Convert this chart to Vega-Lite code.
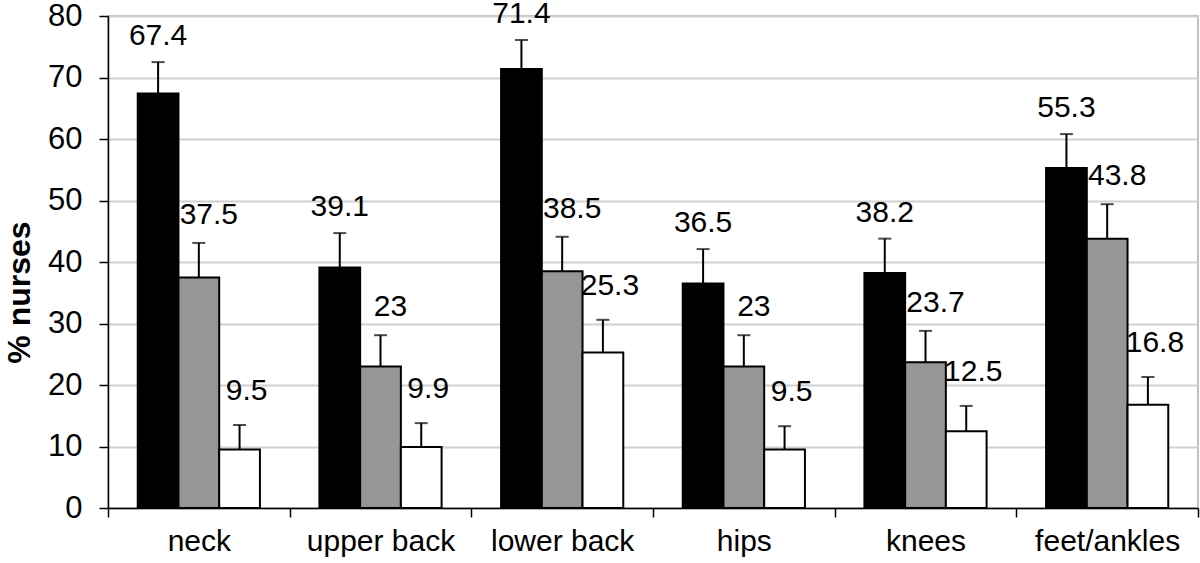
{
  "$schema": "https://vega.github.io/schema/vega-lite/v6.json",
  "width": 1090,
  "height": 492,
  "autosize": {"type": "none"},
  "padding": {"left": 108, "top": 16, "right": 2, "bottom": 55},
  "background": "white",
  "config": {
    "view": {"stroke": "#c0c0c0", "strokeWidth": 2},
    "font": "Liberation Sans"
  },
  "data": {
    "values": [
      {"site": "neck", "series": "A", "value": 67.4, "upper": 72.5},
      {"site": "neck", "series": "B", "value": 37.5, "upper": 43.1},
      {"site": "neck", "series": "C", "value": 9.5, "upper": 13.5},
      {"site": "upper back", "series": "A", "value": 39.1, "upper": 44.7},
      {"site": "upper back", "series": "B", "value": 23, "upper": 28.1},
      {"site": "upper back", "series": "C", "value": 9.9, "upper": 13.8},
      {"site": "lower back", "series": "A", "value": 71.4, "upper": 76.1},
      {"site": "lower back", "series": "B", "value": 38.5, "upper": 44.1},
      {"site": "lower back", "series": "C", "value": 25.3, "upper": 30.6},
      {"site": "hips", "series": "A", "value": 36.5, "upper": 42.1},
      {"site": "hips", "series": "B", "value": 23, "upper": 28.1},
      {"site": "hips", "series": "C", "value": 9.5, "upper": 13.3},
      {"site": "knees", "series": "A", "value": 38.2, "upper": 43.8},
      {"site": "knees", "series": "B", "value": 23.7, "upper": 28.8},
      {"site": "knees", "series": "C", "value": 12.5, "upper": 16.6},
      {"site": "feet/ankles", "series": "A", "value": 55.3, "upper": 60.8},
      {"site": "feet/ankles", "series": "B", "value": 43.8, "upper": 49.4},
      {"site": "feet/ankles", "series": "C", "value": 16.8, "upper": 21.3}
    ]
  },
  "encoding": {
    "x": {
      "field": "site",
      "type": "nominal",
      "sort": ["neck", "upper back", "lower back", "hips", "knees", "feet/ankles"],
      "scale": {"paddingInner": 0, "paddingOuter": 0},
      "axis": {
        "title": null,
        "labelAngle": 0,
        "tickBand": "extent",
        "tickSize": 9,
        "tickColor": "black",
        "tickWidth": 1.5,
        "domainColor": "black",
        "domainWidth": 1.5,
        "labelFontSize": 30,
        "labelColor": "black",
        "labelPadding": 9,
        "grid": false
      }
    },
    "xOffset": {
      "field": "series",
      "type": "nominal",
      "sort": ["A", "B", "C"],
      "scale": {"paddingInner": 0, "paddingOuter": 0.73}
    }
  },
  "layer": [
    {
      "mark": {"type": "bar", "stroke": "black", "strokeWidth": 2},
      "encoding": {
        "y": {
          "field": "value",
          "type": "quantitative",
          "scale": {"domain": [0, 80], "nice": false},
          "axis": {
            "title": "% nurses",
            "values": [0, 10, 20, 30, 40, 50, 60, 70, 80],
            "grid": true,
            "gridColor": "#d0d0d0",
            "gridWidth": 2,
            "domainColor": "black",
            "domainWidth": 1.5,
            "tickColor": "black",
            "tickWidth": 1.5,
            "tickSize": 9,
            "labelFontSize": 31,
            "labelColor": "black",
            "labelPadding": 17,
            "titleFontSize": 32,
            "titleFontWeight": "bold",
            "titleColor": "black",
            "titleX": -89,
            "titleY": 276,
            "titleAlign": "center",
            "titleBaseline": "middle",
            "titleAngle": -90
          }
        },
        "fill": {
          "field": "series",
          "type": "nominal",
          "scale": {"domain": ["A", "B", "C"], "range": ["#000000", "#969696", "#ffffff"]},
          "legend": null
        }
      }
    },
    {
      "mark": {"type": "rule", "strokeWidth": 2, "color": "black"},
      "encoding": {
        "y": {"field": "value", "type": "quantitative", "title": "% nurses"},
        "y2": {"field": "upper"}
      }
    },
    {
      "mark": {"type": "tick", "orient": "horizontal", "size": 13, "thickness": 2, "color": "black"},
      "encoding": {
        "y": {"field": "upper", "type": "quantitative", "title": "% nurses"}
      }
    },
    {
      "transform": [{"filter": "datum.series === 'A'"}],
      "mark": {"type": "text", "dy": -26, "fontSize": 30, "baseline": "middle", "color": "black"},
      "encoding": {
        "y": {"field": "upper", "type": "quantitative", "title": "% nurses"},
        "text": {"field": "value", "type": "quantitative"}
      }
    },
    {
      "transform": [{"filter": "datum.series === 'B'"}],
      "mark": {"type": "text", "dy": -28, "dx": 10, "fontSize": 30, "baseline": "middle", "color": "black"},
      "encoding": {
        "y": {"field": "upper", "type": "quantitative", "title": "% nurses"},
        "text": {"field": "value", "type": "quantitative"}
      }
    },
    {
      "transform": [{"filter": "datum.series === 'C'"}],
      "mark": {"type": "text", "dy": -34, "dx": 7, "fontSize": 30, "baseline": "middle", "color": "black"},
      "encoding": {
        "y": {"field": "upper", "type": "quantitative", "title": "% nurses"},
        "text": {"field": "value", "type": "quantitative"}
      }
    }
  ]
}
